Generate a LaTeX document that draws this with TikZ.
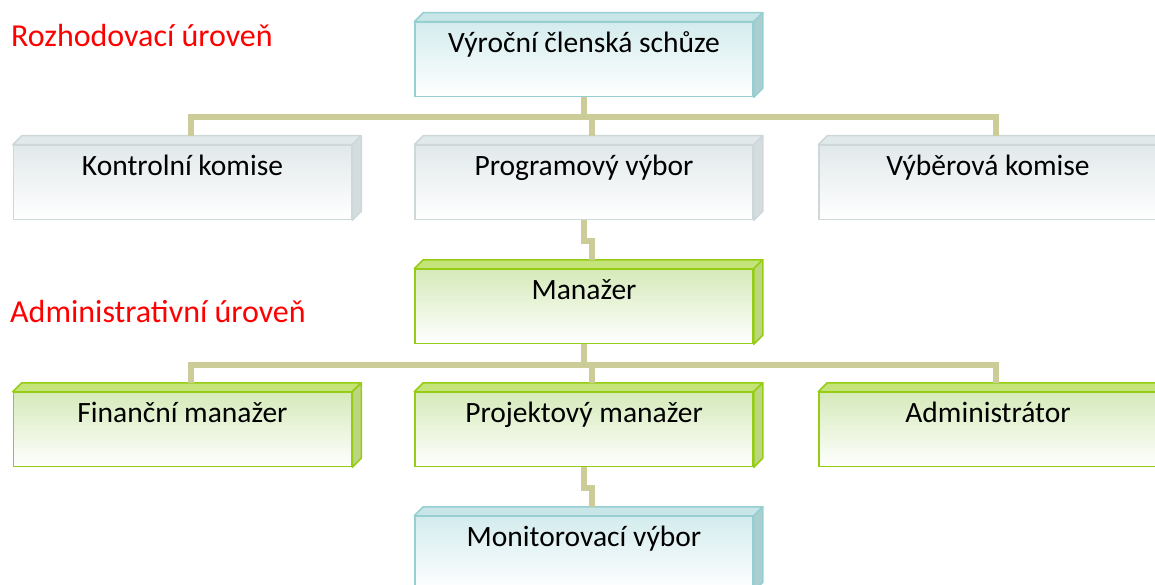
\documentclass[tikz,border=0pt]{standalone}
\usepackage{fontspec}
\setmainfont{Carlito}
\usetikzlibrary{calc}

\definecolor{spoj}{RGB}{204,204,153}
\definecolor{modraR}{RGB}{150,206,210}
\definecolor{modraF}{RGB}{212,236,238}
\definecolor{modraT}{RGB}{200,230,232}
\definecolor{modraS}{RGB}{172,206,208}
\definecolor{sedaR}{RGB}{206,216,218}
\definecolor{sedaF}{RGB}{226,233,235}
\definecolor{sedaT}{RGB}{226,233,235}
\definecolor{sedaS}{RGB}{212,220,222}
\definecolor{zelenaR}{RGB}{150,204,20}
\definecolor{zelenaF}{RGB}{214,234,186}
\definecolor{zelenaT}{RGB}{196,228,122}
\definecolor{zelenaS}{RGB}{188,214,128}

\newcommand{\hloubka}[4]{%
\filldraw[fill=#2,draw=#4,line width=1.5pt,line join=round] (#1.north west) -- ++(\dd,-\dd) -- ($(#1.north east)+(\dd,-\dd)$) -- (#1.north east) -- cycle;
\filldraw[fill=#3,draw=#4,line width=1.5pt,line join=round] (#1.north east) -- ++(\dd,-\dd) -- ($(#1.south east)+(\dd,-\dd)$) -- (#1.south east) -- cycle;}

\begin{document}
\begin{tikzpicture}[x=1pt,y=-1pt,box/.style={shape=rectangle,minimum width=338pt,text height=30pt,text depth=44pt,inner sep=0pt,line width=1.5pt,font=\fontsize{29.5}{34}\selectfont},boxB/.style={box,draw=modraR,top color=modraF,bottom color=white},boxW/.style={box,draw=sedaR,top color=sedaF,bottom color=white},boxG/.style={box,draw=zelenaR,top color=zelenaF,bottom color=white},uroven/.style={anchor=base west,inner sep=0pt,text=red,font=\fontsize{32}{38}\selectfont},conn/.style={draw=spoj,line width=6pt}]
\def\dd{9}
\def\ds{8}

\useasboundingbox (0,0) rectangle (1155,585);
\clip (0,0) rectangle (1155,585);

\node[uroven] (roz) at (11,47) {Rozhodovací úroveň};
\node[uroven] (adu) at (10,322) {Administrativní úroveň};

\node[boxB] (vyr) at (584,59.5) {Výroční členská schůze};

\node[boxW] (kon) at (182.5,182.5) {Kontrolní komise};
\node[boxW] (prog) at (584,182.5) {Programový výbor};
\node[boxW] (vyb) at (988,182.5) {Výběrová komise};

\node[boxG] (man) at (584,306.5) {Manažer};

\node[boxG] (fin) at (182.5,429.5) {Finanční manažer};
\node[boxG] (proj) at (584,429.5) {Projektový manažer};
\node[boxG] (adm) at (988,429.5) {Administrátor};

\node[boxB] (mon) at (584,553.5) {Monitorovací výbor};

\hloubka{vyr}{modraT}{modraS}{modraR}
\hloubka{kon}{sedaT}{sedaS}{sedaR}
\hloubka{prog}{sedaT}{sedaS}{sedaR}
\hloubka{vyb}{sedaT}{sedaS}{sedaR}
\hloubka{man}{zelenaT}{zelenaS}{zelenaR}
\hloubka{fin}{zelenaT}{zelenaS}{zelenaR}
\hloubka{proj}{zelenaT}{zelenaS}{zelenaR}
\hloubka{adm}{zelenaT}{zelenaS}{zelenaR}
\hloubka{mon}{modraT}{modraS}{modraR}

\coordinate (bus1) at ($(vyr.south)+(0,20)$);
\draw[conn] (vyr.south) -- (bus1);
\draw[conn] (bus1) -| ($(kon.north)+(\ds,-\dd)$);
\draw[conn] (bus1) -| ($(prog.north)+(\ds,-\dd)$);
\draw[conn] (bus1) -| ($(vyb.north)+(\ds,-\dd)$);

\draw[conn] (prog.south) -- ++(0,21) -| ($(man.north)+(\ds,-\dd)$);

\coordinate (bus2) at ($(man.south)+(0,21)$);
\draw[conn] (man.south) -- (bus2);
\draw[conn] (bus2) -| ($(fin.north)+(\ds,-\dd)$);
\draw[conn] (bus2) -| ($(proj.north)+(\ds,-\dd)$);
\draw[conn] (bus2) -| ($(adm.north)+(\ds,-\dd)$);

\draw[conn] (proj.south) -- ++(0,21) -| ($(mon.north)+(\ds,-\dd)$);
\end{tikzpicture}
\end{document}
